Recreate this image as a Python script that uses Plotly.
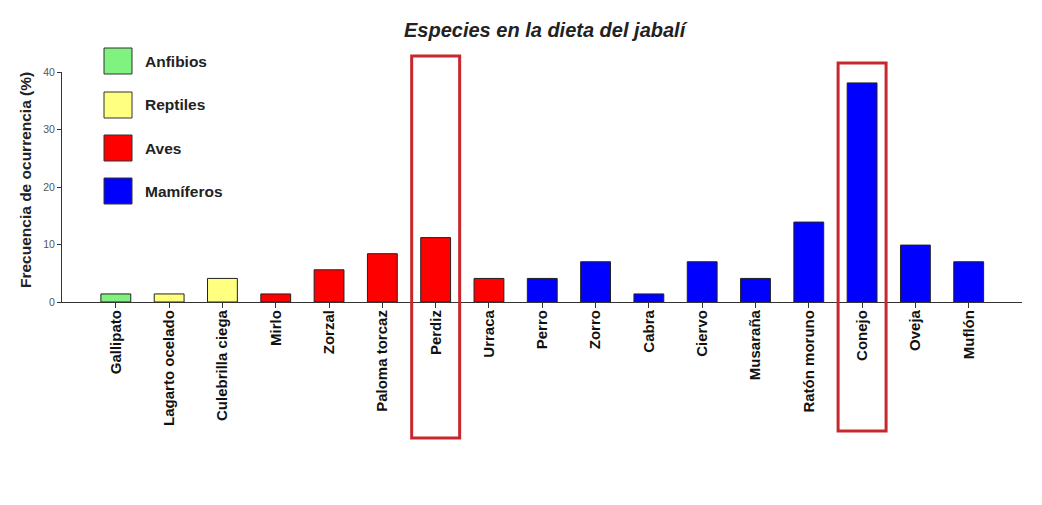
import plotly.graph_objects as go

categories = ["Gallipato", "Lagarto ocelado", "Culebrilla ciega", "Mirlo", "Zorzal",
              "Paloma torcaz", "Perdiz", "Urraca", "Perro", "Zorro", "Cabra", "Ciervo",
              "Musaraña", "Ratón moruno", "Conejo", "Oveja", "Muflón"]
values = [1.4, 1.4, 4.1, 1.4, 5.6, 8.4, 11.2, 4.1, 4.1, 7.0, 1.4, 7.0, 4.1, 13.9, 38.1, 9.9, 7.0]
groups = ["Anfibios", "Reptiles", "Reptiles", "Aves", "Aves", "Aves", "Aves", "Aves",
          "Mamíferos", "Mamíferos", "Mamíferos", "Mamíferos", "Mamíferos", "Mamíferos",
          "Mamíferos", "Mamíferos", "Mamíferos"]
group_names = ["Anfibios", "Reptiles", "Aves", "Mamíferos"]
group_colors = {"Anfibios": "#7FF27F", "Reptiles": "#FFFF80", "Aves": "#FF0000", "Mamíferos": "#0000FF"}
highlighted = ["Perdiz", "Conejo"]
y_title = "Frecuencia de ocurrencia (%)"
chart_title = "Especies en la dieta del jabalí"

OFF = 8  # browser default body margin
W, H = 1042 - 2 * OFF, 505 - 2 * OFF
# plot area in page pixels: x 62..1022, y 72..302
L, R, T, B = 62 - OFF, 1042 - 1022 - OFF, 72 - OFF, 505 - 302 - OFF
pw, ph = W - L - R, H - T - B

def px(x):
    return (x - OFF - L) / pw

def py(y):
    return (H - B - (y - OFF)) / ph

FONT = "Liberation Sans, Arial"
xs = list(range(len(categories)))
fig = go.Figure()
fig.add_trace(go.Bar(
    x=xs, y=values,
    marker=dict(color=[group_colors[g] for g in groups], line=dict(color="#222222", width=1)),
    width=0.56, showlegend=False,
))

shapes = []
annotations = []
box_y = {"Perdiz": (438, 56), "Conejo": (431, 63)}
for name in highlighted:
    i = categories.index(name)
    y0, y1 = box_y[name]
    shapes.append(dict(type="rect", xref="x", yref="paper", x0=i - 0.45, x1=i + 0.45,
                       y0=py(y0), y1=py(y1), line=dict(color="#C8282D", width=3),
                       fillcolor="rgba(0,0,0,0)", layer="above"))

leg_top = [48, 92, 135, 178]
for g, top in zip(group_names, leg_top):
    shapes.append(dict(type="rect", xref="paper", yref="paper", x0=px(104), x1=px(132),
                       y0=py(top + 26), y1=py(top), fillcolor=group_colors[g],
                       line=dict(color="#333333", width=1)))
    annotations.append(dict(text="<b>%s</b>" % g, xref="paper", yref="paper", x=px(143),
                            y=py(top + 13), xanchor="left", yanchor="middle", showarrow=False,
                            font=dict(size=15.5, color="#222222", family=FONT)))

annotations.append(dict(text="<b>%s</b>" % y_title, xref="paper", yref="paper", x=px(25),
                        y=py(180), xanchor="center", yanchor="middle", textangle=-90,
                        showarrow=False, font=dict(size=15.5, color="#222222", family=FONT)))

fig.update_layout(
    width=W, height=H,
    margin=dict(l=L, r=R, t=T, b=B),
    paper_bgcolor="white", plot_bgcolor="white",
    title=dict(text="<b><i>%s</i></b>" % chart_title, x=0.523, xanchor="center",
               y=1 - (30 - OFF) / H, yanchor="middle",
               font=dict(size=20, color="#222222", family=FONT)),
    xaxis=dict(tickmode="array", tickvals=xs, ticktext=["<b>%s</b>" % c for c in categories],
               tickangle=-90, range=[-1.01, 17.0], showline=True, linecolor="#333333",
               linewidth=1.2, ticks="outside", ticklen=5, tickcolor="#333333",
               ticklabelstandoff=-4,
               tickfont=dict(size=15, color="#111111", family=FONT),
               showgrid=False, zeroline=False),
    yaxis=dict(range=[0, 40], tickvals=[0, 10, 20, 30, 40], showline=True, linecolor="#333333",
               linewidth=1, ticks="outside", ticklen=4, tickcolor="#333333",
               tickfont=dict(size=10.5, color="#555555", family=FONT),
               showgrid=False, zeroline=False),
    shapes=shapes, annotations=annotations,
)

fig.write_html("out.html")
